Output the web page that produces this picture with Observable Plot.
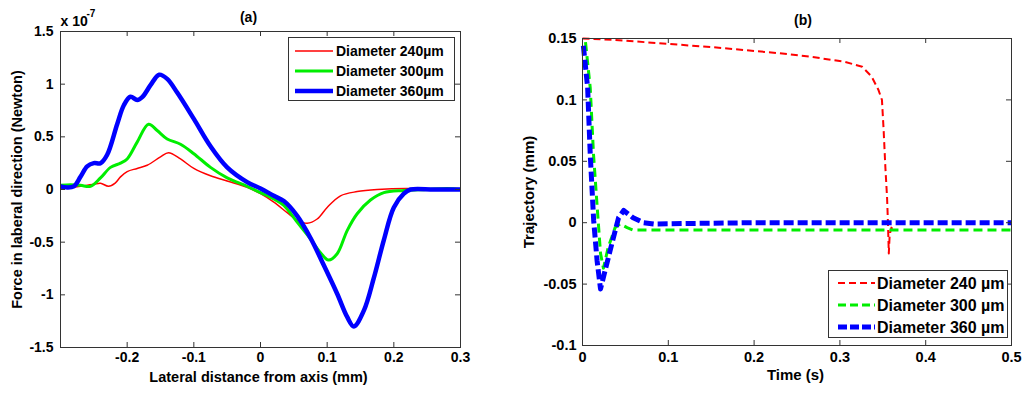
<!DOCTYPE html>
<html><head><meta charset="utf-8">
<script src="https://cdn.jsdelivr.net/npm/d3@7"></script>
<script src="https://cdn.jsdelivr.net/npm/@observablehq/plot@0.6"></script>
<style>
body{margin:0;background:#fff;}
#wrap{position:relative;width:1024px;height:395px;overflow:hidden;background:#fff;font-family:"Liberation Sans",Arial,sans-serif;font-weight:bold;color:#000;}
.panel{position:absolute;top:0;}
.legend{position:absolute;border:1px solid #333;background:#fff;box-sizing:border-box;}
</style></head><body><div id="wrap"></div>
<script>
// ---------- Panel (a): lateral force ----------
const xTicksA = [-0.2, -0.1, 0, 0.1, 0.2, 0.3];
const yTicksA = [-1.5, -1, -0.5, 0, 0.5, 1, 1.5];
const innerXTicksA = [-0.2, -0.1, 0, 0.1, 0.2];
const innerYTicksA = [-1, -0.5, 0, 0.5, 1];

const f240x = [-0.3,-0.27,-0.25,-0.24,-0.228,-0.218,-0.21,-0.2,-0.185,-0.17,-0.15,-0.138,-0.12,-0.1,-0.075,-0.05,-0.02,0,0.02,0.04,0.055,0.07,0.085,0.1,0.12,0.145,0.175,0.22,0.26,0.3];
const f240y = [0.01,0.03,0.05,0.06,0.03,0.06,0.12,0.17,0.2,0.23,0.31,0.35,0.29,0.2,0.13,0.08,0.02,-0.04,-0.12,-0.22,-0.29,-0.32,-0.28,-0.17,-0.06,-0.02,0,0.01,0,0];

const f300x = [-0.3,-0.285,-0.27,-0.255,-0.24,-0.225,-0.21,-0.2,-0.185,-0.168,-0.155,-0.14,-0.12,-0.1,-0.075,-0.05,-0.02,0,0.02,0.035,0.055,0.075,0.09,0.102,0.115,0.13,0.145,0.165,0.185,0.215,0.25,0.28,0.3];
const f300y = [0.04,0.045,0.04,0.03,0.11,0.21,0.25,0.29,0.45,0.62,0.56,0.48,0.43,0.34,0.21,0.11,0.03,-0.03,-0.09,-0.15,-0.31,-0.47,-0.6,-0.67,-0.61,-0.39,-0.23,-0.1,-0.03,-0.01,0,0.01,0];

const f360x = [-0.3,-0.29,-0.28,-0.27,-0.26,-0.25,-0.24,-0.23,-0.215,-0.205,-0.195,-0.185,-0.177,-0.165,-0.152,-0.14,-0.125,-0.1,-0.075,-0.05,-0.02,0,0.02,0.035,0.055,0.075,0.095,0.115,0.13,0.14,0.155,0.17,0.185,0.2,0.215,0.225,0.26,0.3];
const f360y = [0.03,0.02,0.03,0.12,0.22,0.25,0.25,0.33,0.62,0.8,0.88,0.85,0.88,0.99,1.09,1.05,0.92,0.67,0.41,0.21,0.07,0.01,-0.06,-0.11,-0.25,-0.46,-0.72,-0.99,-1.21,-1.3,-1.15,-0.84,-0.48,-0.17,-0.04,0,0,0];

// ---------- Panel (b): trajectory ----------
const xTicksB = [0, 0.1, 0.2, 0.3, 0.4, 0.5];
const yTicksB = [-0.1, -0.05, 0, 0.05, 0.1, 0.15];
const innerXTicksB = [0.1, 0.2, 0.3, 0.4];
const innerYTicksB = [-0.05, 0, 0.05, 0.1];

const t240 = [0,0.035,0.073,0.15,0.23,0.267,0.306,0.326,0.337,0.345,0.349,0.351,0.353,0.355,0.356,0.357,0.358,0.36,0.362];
const y240 = [0.15,0.149,0.147,0.143,0.138,0.135,0.131,0.127,0.119,0.108,0.1,0.075,0.045,0.02,0,-0.025,-0.01,-0.004,-0.006];

const t300 = [0.0035,0.009,0.0128,0.0174,0.021,0.0244,0.03,0.038,0.044,0.052,0.059,0.07,0.2,0.35,0.5];
const y300 = [0.147,0.11,0.056,0.01,-0.025,-0.037,-0.02,-0.004,-0.001,-0.004,-0.006,-0.006,-0.006,-0.006,-0.006];

const t360 = [0.001,0.006,0.009,0.013,0.017,0.021,0.027,0.035,0.042,0.048,0.059,0.071,0.083,0.2,0.35,0.5];
const y360 = [0.144,0.11,0.056,0.002,-0.031,-0.054,-0.037,-0.015,0.004,0.01,0.004,0,-0.001,0,0,0];

const labelsA = ["Diameter 240\u00b5m", "Diameter 300\u00b5m", "Diameter 360\u00b5m"];
const labelsB = ["Diameter 240 \u00b5m", "Diameter 300 \u00b5m", "Diameter 360 \u00b5m"];
const colors = ["#ff0000", "#00ee00", "#0000ff"];

const pairs = (xs, ys) => xs.map((x, i) => ({x, y: ys[i]}));
const fmt = d => String(d);
const FONT = '"Liberation Sans", Arial, sans-serif';

function panel({width, height, ml, mr, mt, mb, xDomain, yDomain, xTicks, yTicks, innerX, innerY, lines, title, titleDx, titleDy, xLabel, xLabelDx, yLabel, yLabelDx, fontSize, labelSize, xPad, yPad, extra = []}) {
  const fw = width - ml - mr, fh = height - mt - mb;
  return Plot.plot({
    width, height, marginLeft: ml, marginRight: mr, marginTop: mt, marginBottom: mb,
    style: {fontFamily: FONT, fontSize: fontSize + "px", fontWeight: "bold", color: "#000", background: "transparent", overflow: "visible"},
    x: {domain: xDomain}, y: {domain: yDomain},
    marks: [
      ...lines.map(l => Plot.line(l.data, {x: "x", y: "y", stroke: l.color, strokeWidth: l.width, strokeDasharray: l.dash, curve: l.curve || "linear", strokeLinecap: "butt"})),
      Plot.frame({stroke: "#333", strokeWidth: 1}),
      Plot.tickX(innerX, {x: d => d, insetTop: fh - 5, stroke: "#333"}),
      Plot.tickX(innerX, {x: d => d, insetBottom: fh - 5, stroke: "#333"}),
      Plot.tickY(innerY, {y: d => d, insetRight: fw - 5, stroke: "#333"}),
      Plot.tickY(innerY, {y: d => d, insetLeft: fw - 5, stroke: "#333"}),
      Plot.axisX(xTicks, {tickSize: 0, tickPadding: xPad, tickFormat: fmt, label: null}),
      Plot.axisY(yTicks, {tickSize: 0, tickPadding: yPad, tickFormat: fmt, label: null}),
      Plot.text([title], {frameAnchor: "top", dx: titleDx, dy: titleDy, textAnchor: "middle", lineAnchor: "middle", fontSize: 14}),
      Plot.text([xLabel], {frameAnchor: "bottom", dx: xLabelDx, dy: 30, textAnchor: "middle", lineAnchor: "middle", fontSize: labelSize}),
      Plot.text([yLabel], {frameAnchor: "left", dx: yLabelDx, rotate: -90, textAnchor: "middle", lineAnchor: "middle", fontSize: labelSize}),
      ...extra
    ]
  });
}

const wrap = document.getElementById("wrap");

const svgA = panel({
  width: 512, height: 395, ml: 60, mr: 52, mt: 31, mb: 48,
  xDomain: [-0.3, 0.3], yDomain: [-1.5, 1.5],
  xTicks: xTicksA, yTicks: yTicksA, innerX: innerXTicksA, innerY: innerYTicksA,
  lines: [
    {data: pairs(f240x, f240y), color: colors[0], width: 1.5, curve: "catmull-rom"},
    {data: pairs(f300x, f300y), color: colors[1], width: 3, curve: "catmull-rom"},
    {data: pairs(f360x, f360y), color: colors[2], width: 4.5, curve: "catmull-rom"}
  ],
  title: "(a)", titleDx: -12, titleDy: -14,
  xLabel: "Lateral distance from axis (mm)", xLabelDx: -2,
  yLabel: "Force in laberal direction (Newton)", yLabelDx: -43,
  fontSize: 14, labelSize: 14.5, xPad: 5, yPad: 7,
  extra: [
    Plot.text(["x 10"], {frameAnchor: "top-left", dy: -10, textAnchor: "start", lineAnchor: "middle", fontSize: 14}),
    Plot.text(["-7"], {frameAnchor: "top-left", dx: 26, dy: -18, textAnchor: "start", lineAnchor: "middle", fontSize: 10})
  ]
});
svgA.classList.add("panel");
svgA.style.left = "0px";
wrap.appendChild(svgA);

const svgB = panel({
  width: 512, height: 395, ml: 70, mr: 13, mt: 38, mb: 50,
  xDomain: [0, 0.5], yDomain: [-0.1, 0.15],
  xTicks: xTicksB, yTicks: yTicksB, innerX: innerXTicksB, innerY: innerYTicksB,
  lines: [
    {data: pairs(t240, y240), color: colors[0], width: 2, dash: "7,4"},
    {data: pairs(t300, y300), color: colors[1], width: 3, dash: "9,5"},
    {data: pairs(t360, y360), color: colors[2], width: 5, dash: "10,4"}
  ],
  title: "(b)", titleDx: 6, titleDy: -18,
  xLabel: "Time (s)", xLabelDx: -1.5,
  yLabel: "Trajectory (mm)", yLabelDx: -53,
  fontSize: 14.5, labelSize: 15, xPad: 6, yPad: 6
});
svgB.classList.add("panel");
svgB.style.left = "512px";
wrap.appendChild(svgB);

// ---------- Legends ----------
function legend({left, top, width, height, labels, widths, dashes, rowYs, lineX0, lineX1, textX, fontSize}) {
  const div = document.createElement("div");
  div.className = "legend";
  Object.assign(div.style, {left: left + "px", top: top + "px", width: width + "px", height: height + "px"});
  const svg = d3.create("svg").attr("width", width - 2).attr("height", height - 2)
    .style("position", "absolute").style("left", "0px").style("top", "0px");
  labels.forEach((lab, i) => {
    svg.append("line").attr("x1", lineX0).attr("x2", lineX1).attr("y1", rowYs[i]).attr("y2", rowYs[i])
      .attr("stroke", colors[i]).attr("stroke-width", widths[i]).attr("stroke-dasharray", dashes[i]);
    svg.append("text").attr("x", textX).attr("y", rowYs[i]).attr("dy", "0.35em")
      .attr("font-family", FONT).attr("font-weight", "bold").attr("font-size", fontSize).text(lab);
  });
  div.appendChild(svg.node());
  wrap.appendChild(div);
}

legend({left: 288, top: 37, width: 167, height: 64, labels: labelsA, widths: [1.5, 3, 4.5], dashes: [null, null, null],
  rowYs: [13, 33, 53], lineX0: 6, lineX1: 44, textX: 47, fontSize: 14});
legend({left: 828, top: 270, width: 180, height: 68, labels: labelsB, widths: [2, 3, 5], dashes: ["7,4", "8,4", "9,3"],
  rowYs: [12, 34, 56], lineX0: 9, lineX1: 46, textX: 48, fontSize: 16});
</script>
</body></html>
